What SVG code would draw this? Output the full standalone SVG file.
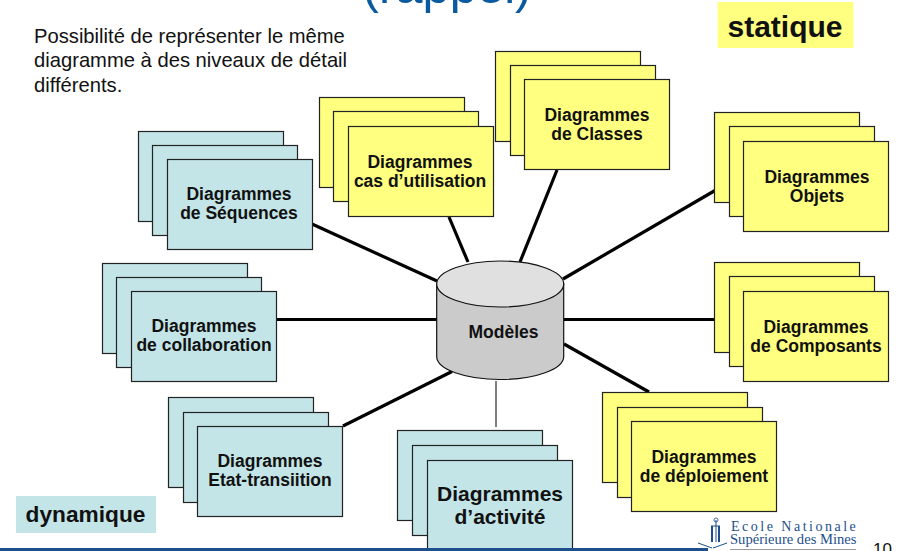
<svg xmlns="http://www.w3.org/2000/svg" width="897" height="551" viewBox="0 0 897 551">
<style>
text{font-family:"Liberation Sans",Arial,sans-serif;fill:#111}
.l{font-size:17.5px;font-weight:bold;text-anchor:middle}
.y rect{fill:#ffff80;stroke:#222;stroke-width:1.2}
.b rect{fill:#c4e5e8;stroke:#222;stroke-width:1.2}
.c line{stroke:#000;stroke-width:3.2}
.p{font-size:20.200px}
</style>
<rect width="897" height="551" fill="#fff"/>
<text x="447" y="3" font-size="49" text-anchor="middle" style="fill:#0a5aa0">(rappel)</text>
<text class="p" x="34" y="43">Possibilité de représenter le même</text>
<text class="p" x="34" y="67">diagramme à des niveaux de détail</text>
<text class="p" x="34" y="92">différents.</text>
<g id="legend-statique"><rect x="717.500" y="2" width="136" height="46" fill="#ffff80"/><text x="785" y="37" font-size="30" font-weight="bold" text-anchor="middle">statique</text></g>
<g id="legend-dynamique"><rect x="16" y="496" width="140" height="37" fill="#c4e5e8"/><text x="85.500" y="522" font-size="22.700" font-weight="bold" text-anchor="middle">dynamique</text></g>
<g id="connectors" class="c">
<line x1="312" y1="224" x2="437" y2="281"/>
<line x1="449" y1="217" x2="468" y2="262"/>
<line x1="557" y1="170" x2="520" y2="262"/>
<line x1="715" y1="190.500" x2="563" y2="279"/>
<line x1="743" y1="319.500" x2="564" y2="319.500"/>
<line x1="649" y1="392" x2="564" y2="344"/>
<line x1="343" y1="426" x2="452" y2="371.500"/>
<line x1="276" y1="319.500" x2="437" y2="319.500"/>
<line x1="496" y1="381" x2="496" y2="427" style="stroke:#555;stroke-width:1.5"/>
</g>
<g id="cas" class="y"><rect x="319.500" y="97.500" width="145" height="90"/><rect x="333.500" y="111.500" width="145" height="90"/><rect x="348.500" y="126.500" width="145" height="90"/><text class="l" x="420" y="168">Diagrammes</text><text class="l" x="420" y="187">cas d’utilisation</text></g>
<g id="classes" class="y"><rect x="495.500" y="51.500" width="145" height="90"/><rect x="510.500" y="65.500" width="145" height="90"/><rect x="524.500" y="79.500" width="145" height="90"/><text class="l" x="597" y="121">Diagrammes</text><text class="l" x="597" y="140">de Classes</text></g>
<g id="objets" class="y"><rect x="714.500" y="112.500" width="145" height="90"/><rect x="729.500" y="126.500" width="145" height="90"/><rect x="743.500" y="141.500" width="145" height="90"/><text class="l" x="817" y="183">Diagrammes</text><text class="l" x="817" y="202">Objets</text></g>
<g id="composants" class="y"><rect x="714.500" y="262.500" width="145" height="90"/><rect x="729.500" y="276.500" width="145" height="90"/><rect x="743.500" y="291.500" width="145" height="90"/><text class="l" x="816" y="333">Diagrammes</text><text class="l" x="816" y="352">de Composants</text></g>
<g id="deploiement" class="y"><rect x="602.500" y="392.500" width="145" height="90"/><rect x="617.500" y="407.500" width="145" height="90"/><rect x="631.500" y="421.500" width="145" height="90"/><text class="l" x="704" y="463">Diagrammes</text><text class="l" x="704" y="482">de déploiement</text></g>
<g id="sequences" class="b"><rect x="138.500" y="131.500" width="145" height="90"/><rect x="152.500" y="145.500" width="145" height="90"/><rect x="167.500" y="159.500" width="145" height="90"/><text class="l" x="239" y="200">Diagrammes</text><text class="l" x="239" y="219">de Séquences</text></g>
<g id="collaboration" class="b"><rect x="102.500" y="263.500" width="145" height="90"/><rect x="116.500" y="277.500" width="145" height="90"/><rect x="131.500" y="291.500" width="145" height="90"/><text class="l" x="204" y="332">Diagrammes</text><text class="l" x="204" y="351">de collaboration</text></g>
<g id="etat" class="b"><rect x="168.500" y="397.500" width="145" height="90"/><rect x="183.500" y="412.500" width="145" height="90"/><rect x="197.500" y="426.500" width="145" height="90"/><text class="l" x="270" y="467">Diagrammes</text><text class="l" x="270" y="486">Etat-transiition</text></g>
<g id="activite" class="b"><rect x="397.500" y="430.500" width="145" height="90"/><rect x="412.500" y="445.500" width="145" height="90"/><rect x="427.500" y="460.500" width="145" height="90"/><text class="l" style="font-size:21px" x="500" y="501">Diagrammes</text><text class="l" style="font-size:21px" x="500" y="524">d’activité</text></g>
<g id="modeles">
<path d="M436.700 284V356.500A63.500 23 0 0 0 563.700 356.500V284Z" fill="#cbcbcb" stroke="#111" stroke-width="1.2"/>
<ellipse cx="500.200" cy="284" rx="63.500" ry="23" fill="#e0e0e0" stroke="#111" stroke-width="1.200"/>
<text class="l" x="503.500" y="338" style="font-size:17.500px">Modèles</text>
</g>
<rect x="0" y="548" width="708" height="3" fill="#1d4f8c"/>
<line x1="730" y1="549.500" x2="856" y2="549.500" stroke="#999" stroke-width="1"/>
<g id="logo">
<path d="M712 526v16M719 526v16" stroke="#1d4f8c" stroke-width="2" fill="none"/>
<path d="M711 526h9M716 520v22M698 543l14 5M727 543l-14 5" stroke="#1d4f8c" stroke-width="1" fill="none"/>
<circle cx="716" cy="520" r="2" fill="none" stroke="#1d4f8c" stroke-width="0.800"/>
<text x="731" y="531" font-size="14" letter-spacing="2.5" style="font-family:'Liberation Serif',serif;fill:#1d4f8c">Ecole Nationale</text>
<text x="730" y="544" font-size="14.600" style="font-family:'Liberation Serif',serif;fill:#1d4f8c">Supérieure des Mines</text>
</g>
<text x="873" y="555" font-size="17">10</text>
</svg>
